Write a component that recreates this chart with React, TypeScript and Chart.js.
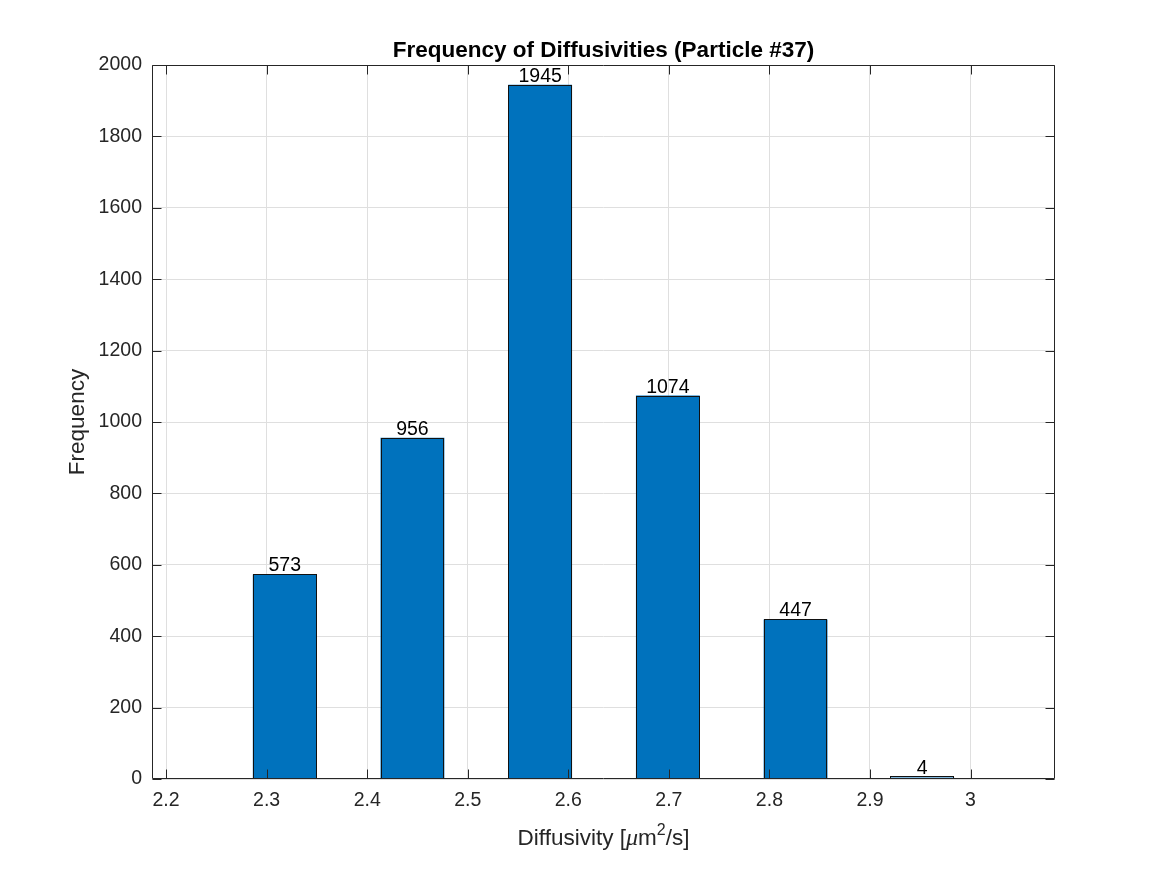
import React, { useEffect, useRef } from 'react';
import { Chart, registerables } from 'chart.js';

Chart.register(...registerables);

// histogram bins
const binCenters = [2.318, 2.445, 2.572, 2.699, 2.826, 2.952];
const frequencies = [573, 956, 1945, 1074, 447, 4];
const xTicks = [2.2, 2.3, 2.4, 2.5, 2.6, 2.7, 2.8, 2.9, 3];
const yTicks = [0, 200, 400, 600, 800, 1000, 1200, 1400, 1600, 1800, 2000];

const FONT = '"Liberation Sans", Helvetica, Arial, sans-serif';
const INK = '#262626';
const BAR_BLUE = '#0072BD';

const matlabFrame = {
  id: 'matlabFrame',
  afterDatasetsDraw(chart: any) {
    const { ctx, chartArea } = chart;
    const { left, right, top, bottom } = chartArea;
    const xs = chart.scales.x;
    const ys = chart.scales.y;
    const tick = 9;
    const meta = chart.getDatasetMeta(0);

    ctx.save();
    // bar edges, MATLAB style (line centred on the edge)
    ctx.strokeStyle = '#111';
    ctx.lineWidth = 1;
    meta.data.forEach((bar: any) => {
      const x0 = Math.round(bar.x - bar.width / 2) + 0.5;
      const x1 = Math.round(bar.x + bar.width / 2) - 0.5;
      const y0 = Math.round(bar.y) + 0.5;
      const y1 = Math.round(bar.base) - 0.5;
      ctx.strokeRect(x0, Math.min(y0, y1 - 2), x1 - x0, Math.max(y1 - y0, 2));
    });

    // value labels above bars
    ctx.fillStyle = '#000';
    ctx.font = `19.5px ${FONT}`;
    ctx.textAlign = 'center';
    ctx.textBaseline = 'alphabetic';
    meta.data.forEach((bar: any, i: number) => {
      ctx.fillText(String(frequencies[i]), bar.x, Math.min(bar.y, bar.base - 2) - 3);
    });

    // box + inward ticks
    ctx.strokeStyle = INK;
    ctx.lineWidth = 1;
    const L = Math.round(left) + 0.5;
    const R = Math.round(right) - 0.5;
    const T = Math.round(top) + 0.5;
    const B = Math.round(bottom) - 0.5;
    ctx.beginPath();
    ctx.rect(L, T, R - L, B - T);
    xTicks.forEach((v) => {
      const px = Math.round(xs.getPixelForValue(v)) + 0.5;
      ctx.moveTo(px, B);
      ctx.lineTo(px, B - tick);
      ctx.moveTo(px, T);
      ctx.lineTo(px, T + tick);
    });
    yTicks.forEach((v) => {
      const py = Math.round(ys.getPixelForValue(v)) + 0.5;
      ctx.moveTo(L, py);
      ctx.lineTo(L + tick, py);
      ctx.moveTo(R, py);
      ctx.lineTo(R - tick, py);
    });
    ctx.stroke();
    ctx.restore();
  },
  afterDraw(chart: any) {
    const { ctx, chartArea } = chart;
    const cx = (chartArea.left + chartArea.right) / 2;
    const cy = (chartArea.top + chartArea.bottom) / 2;

    ctx.save();
    // title
    ctx.fillStyle = '#000';
    ctx.font = `bold 22.5px ${FONT}`;
    ctx.textAlign = 'center';
    ctx.textBaseline = 'alphabetic';
    ctx.fillText('Frequency of Diffusivities (Particle #37)', cx, 57);

    // y label
    ctx.fillStyle = INK;
    ctx.font = `22.5px ${FONT}`;
    ctx.save();
    ctx.translate(84, cy);
    ctx.rotate(-Math.PI / 2);
    ctx.fillText('Frequency', 0, 0);
    ctx.restore();

    // x label with TeX-ish pieces
    const pieces = [
      { t: 'Diffusivity [', f: `22.5px ${FONT}`, dy: 0 },
      { t: 'μ', f: `italic 24px "Liberation Serif", "DejaVu Serif", serif`, dy: 0 },
      { t: 'm', f: `22.5px ${FONT}`, dy: 0 },
      { t: '2', f: `16px ${FONT}`, dy: -10 },
      { t: '/s]', f: `22.5px ${FONT}`, dy: 0 },
    ];
    let total = 0;
    pieces.forEach((p) => {
      ctx.font = p.f;
      total += ctx.measureText(p.t).width;
    });
    let x = cx - total / 2;
    ctx.textAlign = 'left';
    pieces.forEach((p) => {
      ctx.font = p.f;
      ctx.fillText(p.t, x, 845 + p.dy);
      x += ctx.measureText(p.t).width;
    });
    ctx.restore();
  },
};

const App: React.FC = () => {
  const canvasRef = useRef<HTMLCanvasElement | null>(null);

  useEffect(() => {
    if (!canvasRef.current) return;
    const binStep = binCenters[1] - binCenters[0];
    const tickStep = xTicks[1] - xTicks[0];

    const chart = new Chart(canvasRef.current, {
      type: 'bar',
      data: {
        datasets: [
          {
            data: binCenters.map((x, i) => ({ x, y: frequencies[i] })),
            backgroundColor: BAR_BLUE,
            borderWidth: 0,
            categoryPercentage: 1,
            // ruler uses tick spacing, so scale bar to half a bin
            barPercentage: (0.5 * binStep) / tickStep,
          },
        ],
      },
      options: {
        responsive: false,
        animation: false,
        devicePixelRatio: 1,
        layout: { padding: { top: 65, right: 112, left: 0, bottom: 0 } },
        plugins: {
          legend: { display: false },
          title: { display: false },
          tooltip: { enabled: false },
        },
        scales: {
          x: {
            type: 'linear',
            min: 2.186,
            max: 3.084,
            offset: false,
            afterBuildTicks: (scale: any) => {
              scale.ticks = xTicks.map((value) => ({ value }));
            },
            afterFit: (scale: any) => {
              scale.height = 96;
            },
            grid: { color: '#dfdfdf', drawTicks: false, offset: false },
            border: { display: false },
            ticks: {
              padding: 10,
              color: INK,
              font: { family: FONT, size: 19.5 },
              maxRotation: 0,
              autoSkip: false,
              callback: (v: any) => String(Math.round(Number(v) * 10) / 10),
            },
          },
          y: {
            min: 0,
            max: 2000,
            afterBuildTicks: (scale: any) => {
              scale.ticks = yTicks.map((value) => ({ value }));
            },
            afterFit: (scale: any) => {
              scale.width = 152;
            },
            grid: { color: '#dfdfdf', drawTicks: false },
            border: { display: false },
            ticks: {
              padding: 10,
              color: INK,
              font: { family: FONT, size: 19.5 },
              autoSkip: false,
              callback: (v: any) => String(v),
            },
          },
        },
      },
      plugins: [matlabFrame],
    });

    return () => {
      chart.destroy();
    };
  }, []);

  return (
    <div style={{ position: 'absolute', left: 0, top: 0, width: 1167, height: 875, background: '#fff' }}>
      <canvas ref={canvasRef} width={1167} height={875} style={{ display: 'block', width: 1167, height: 875 }} />
    </div>
  );
};

export default App;
